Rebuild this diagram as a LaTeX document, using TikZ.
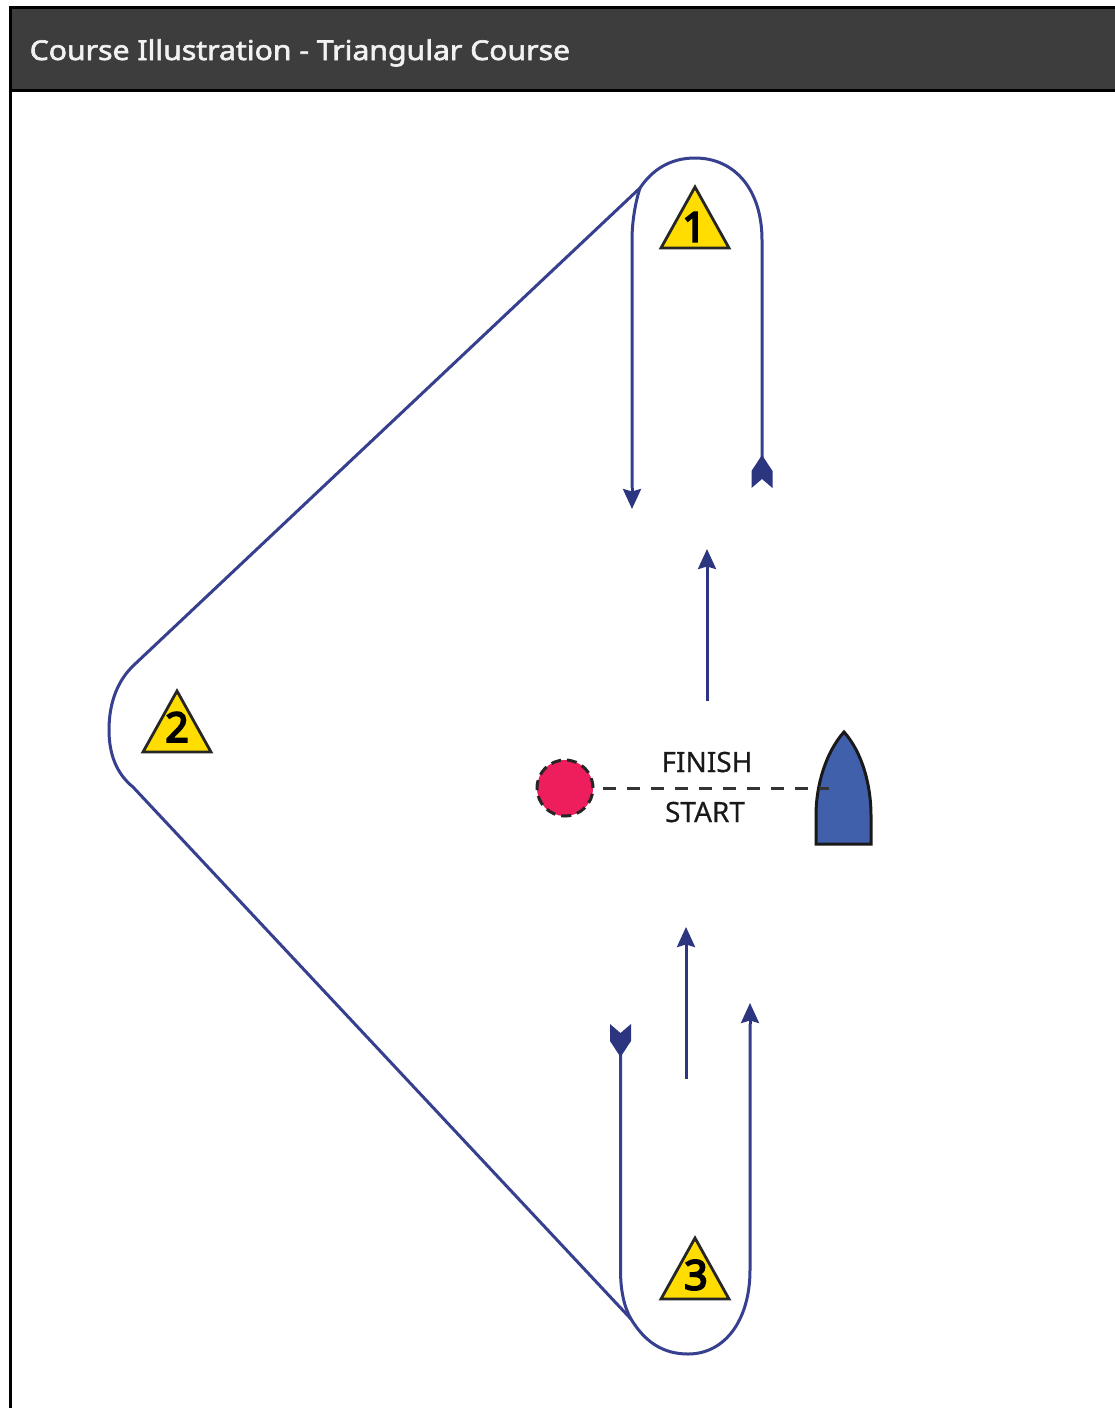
\documentclass[tikz,border=0pt]{standalone}
\usepackage{fontspec}
\setmainfont{Noto Sans}
\newfontfamily\boldtitle{Noto Sans}[FakeBold=2.2,FakeStretch=1.105]
\newfontfamily\boldnum{Noto Sans}[FakeBold=4.5]
\newfontfamily\labelfont{Noto Sans}[FakeBold=0.4]
\usetikzlibrary{arrows.meta}
\definecolor{course}{HTML}{36408E}
\definecolor{headcol}{HTML}{2C3580}
\definecolor{bar}{HTML}{3D3D3D}
\definecolor{markyellow}{HTML}{FFDD00}
\definecolor{pin}{HTML}{EE1D5C}
\definecolor{boat}{HTML}{4060AC}
\tikzset{
  coursepath/.style={draw=course,line width=3pt},
  flow/.style={draw=headcol,line width=3pt,-{Stealth[length=20pt,width=18pt,inset=2.5pt]}},
  label/.style={font=\labelfont\fontsize{28}{30}\selectfont,text=black!90,inner sep=0pt},
  marktri/.style={fill=markyellow,draw=black!85,line width=2.8pt,line join=miter},
  marknum/.style={font=\boldnum\fontsize{41}{44}\selectfont,inner sep=0pt,text=black},
  tailmark/.pic={\fill[headcol] (0,0) -- (10.5,16) -- (10.5,33) -- (0,24) -- (-10.5,33) -- (-10.5,16) -- cycle;},
}
\begin{document}
\begin{tikzpicture}[x=1pt,y=-1pt]
\useasboundingbox (0,0) rectangle (1115,1408);
\fill[white] (0,0) rectangle (1115,1408);
% frame and header
\fill[bar] (10,7) rectangle (1115,90);
\draw[black,line width=3pt] (1115,7) -- (10,7) -- (10,1408);
\draw[black,line width=3pt] (10,90) -- (1115,90);
\node[anchor=base west,inner sep=0pt,text=white!95!black,font=\boldtitle\fontsize{27.3}{30}\selectfont] (title) at (29.5,60) {Course Illustration - Triangular Course};
% named points
\coordinate (rtail) at (762,458);
\coordinate (ltail) at (620.5,1054);
\coordinate (j1) at (640,188);
\coordinate (j3) at (631,1319);
% arrows
\coordinate (a1s) at (632,488); \coordinate (a1e) at (632,509);
\coordinate (a2s) at (707,701); \coordinate (a2e) at (707,549);
\coordinate (a3s) at (686,1079); \coordinate (a3e) at (686,927);
\coordinate (a4s) at (750,1024); \coordinate (a4e) at (750,1003);
% course line
\draw[coursepath,line join=round]
  (rtail) -- (762,240)
  .. controls (762,190) and (735,158) .. (695,158)
  .. controls (670,158) and (652,170) .. (j1)
  -- (134,665)
  .. controls (118,680) and (109,702) .. (109,730)
  .. controls (109,755) and (117,774) .. (133,787)
  -- (j3)
  .. controls (645,1342) and (663,1354) .. (688,1354)
  .. controls (725,1354) and (750,1320) .. (750,1270)
  -- (a4s);
\draw[coursepath] (j1) .. controls (636,200) and (632,220) .. (632,240) -- (a1s);
\draw[coursepath] (ltail) -- (620.5,1270) .. controls (620.5,1290) and (624,1307) .. (j3);
\draw[flow] (a1s) -- (a1e);
\draw[flow] (a2s) -- (a2e);
\draw[flow] (a3s) -- (a3e);
\draw[flow] (a4s) -- (a4e);
% tail marks
\pic at (762,455) {tailmark};
\begin{scope}[shift={(620.5,1057)},y=1pt]
\pic {tailmark};
\end{scope}
% marks
\draw[marktri] (695,187) -- (729,248) -- (661,248) -- cycle;
\node[marknum] (m1) at (694,227) {1};
\draw[marktri] (177,691) -- (211,752) -- (143,752) -- cycle;
\node[marknum] (m2) at (177,727) {2};
\draw[marktri] (695,1238) -- (729,1299) -- (661,1299) -- cycle;
\node[marknum] (m3) at (696,1275) {3};
% start line
\node[circle,draw=black!85,dash pattern=on 10pt off 6pt,line width=3pt,fill=pin,minimum size=56pt,inner sep=0pt] (pinend) at (565,788) {};
\path[fill=boat,draw=black!90,line width=3pt,line join=miter] (844,732)
  .. controls (862,752) and (871,785) .. (871,815) -- (871,844) -- (816,844) -- (816,815)
  .. controls (816,785) and (826,752) .. (844,732) -- cycle;
\coordinate (boatpt) at (829,788);
\draw[black!80,line width=3pt,dash pattern=on 13pt off 11pt] (603,788) -- (boatpt);
\node[label] (finish) at (707,762) {FINISH};
\node[label] (start) at (705,812) {START};
\end{tikzpicture}
\end{document}
